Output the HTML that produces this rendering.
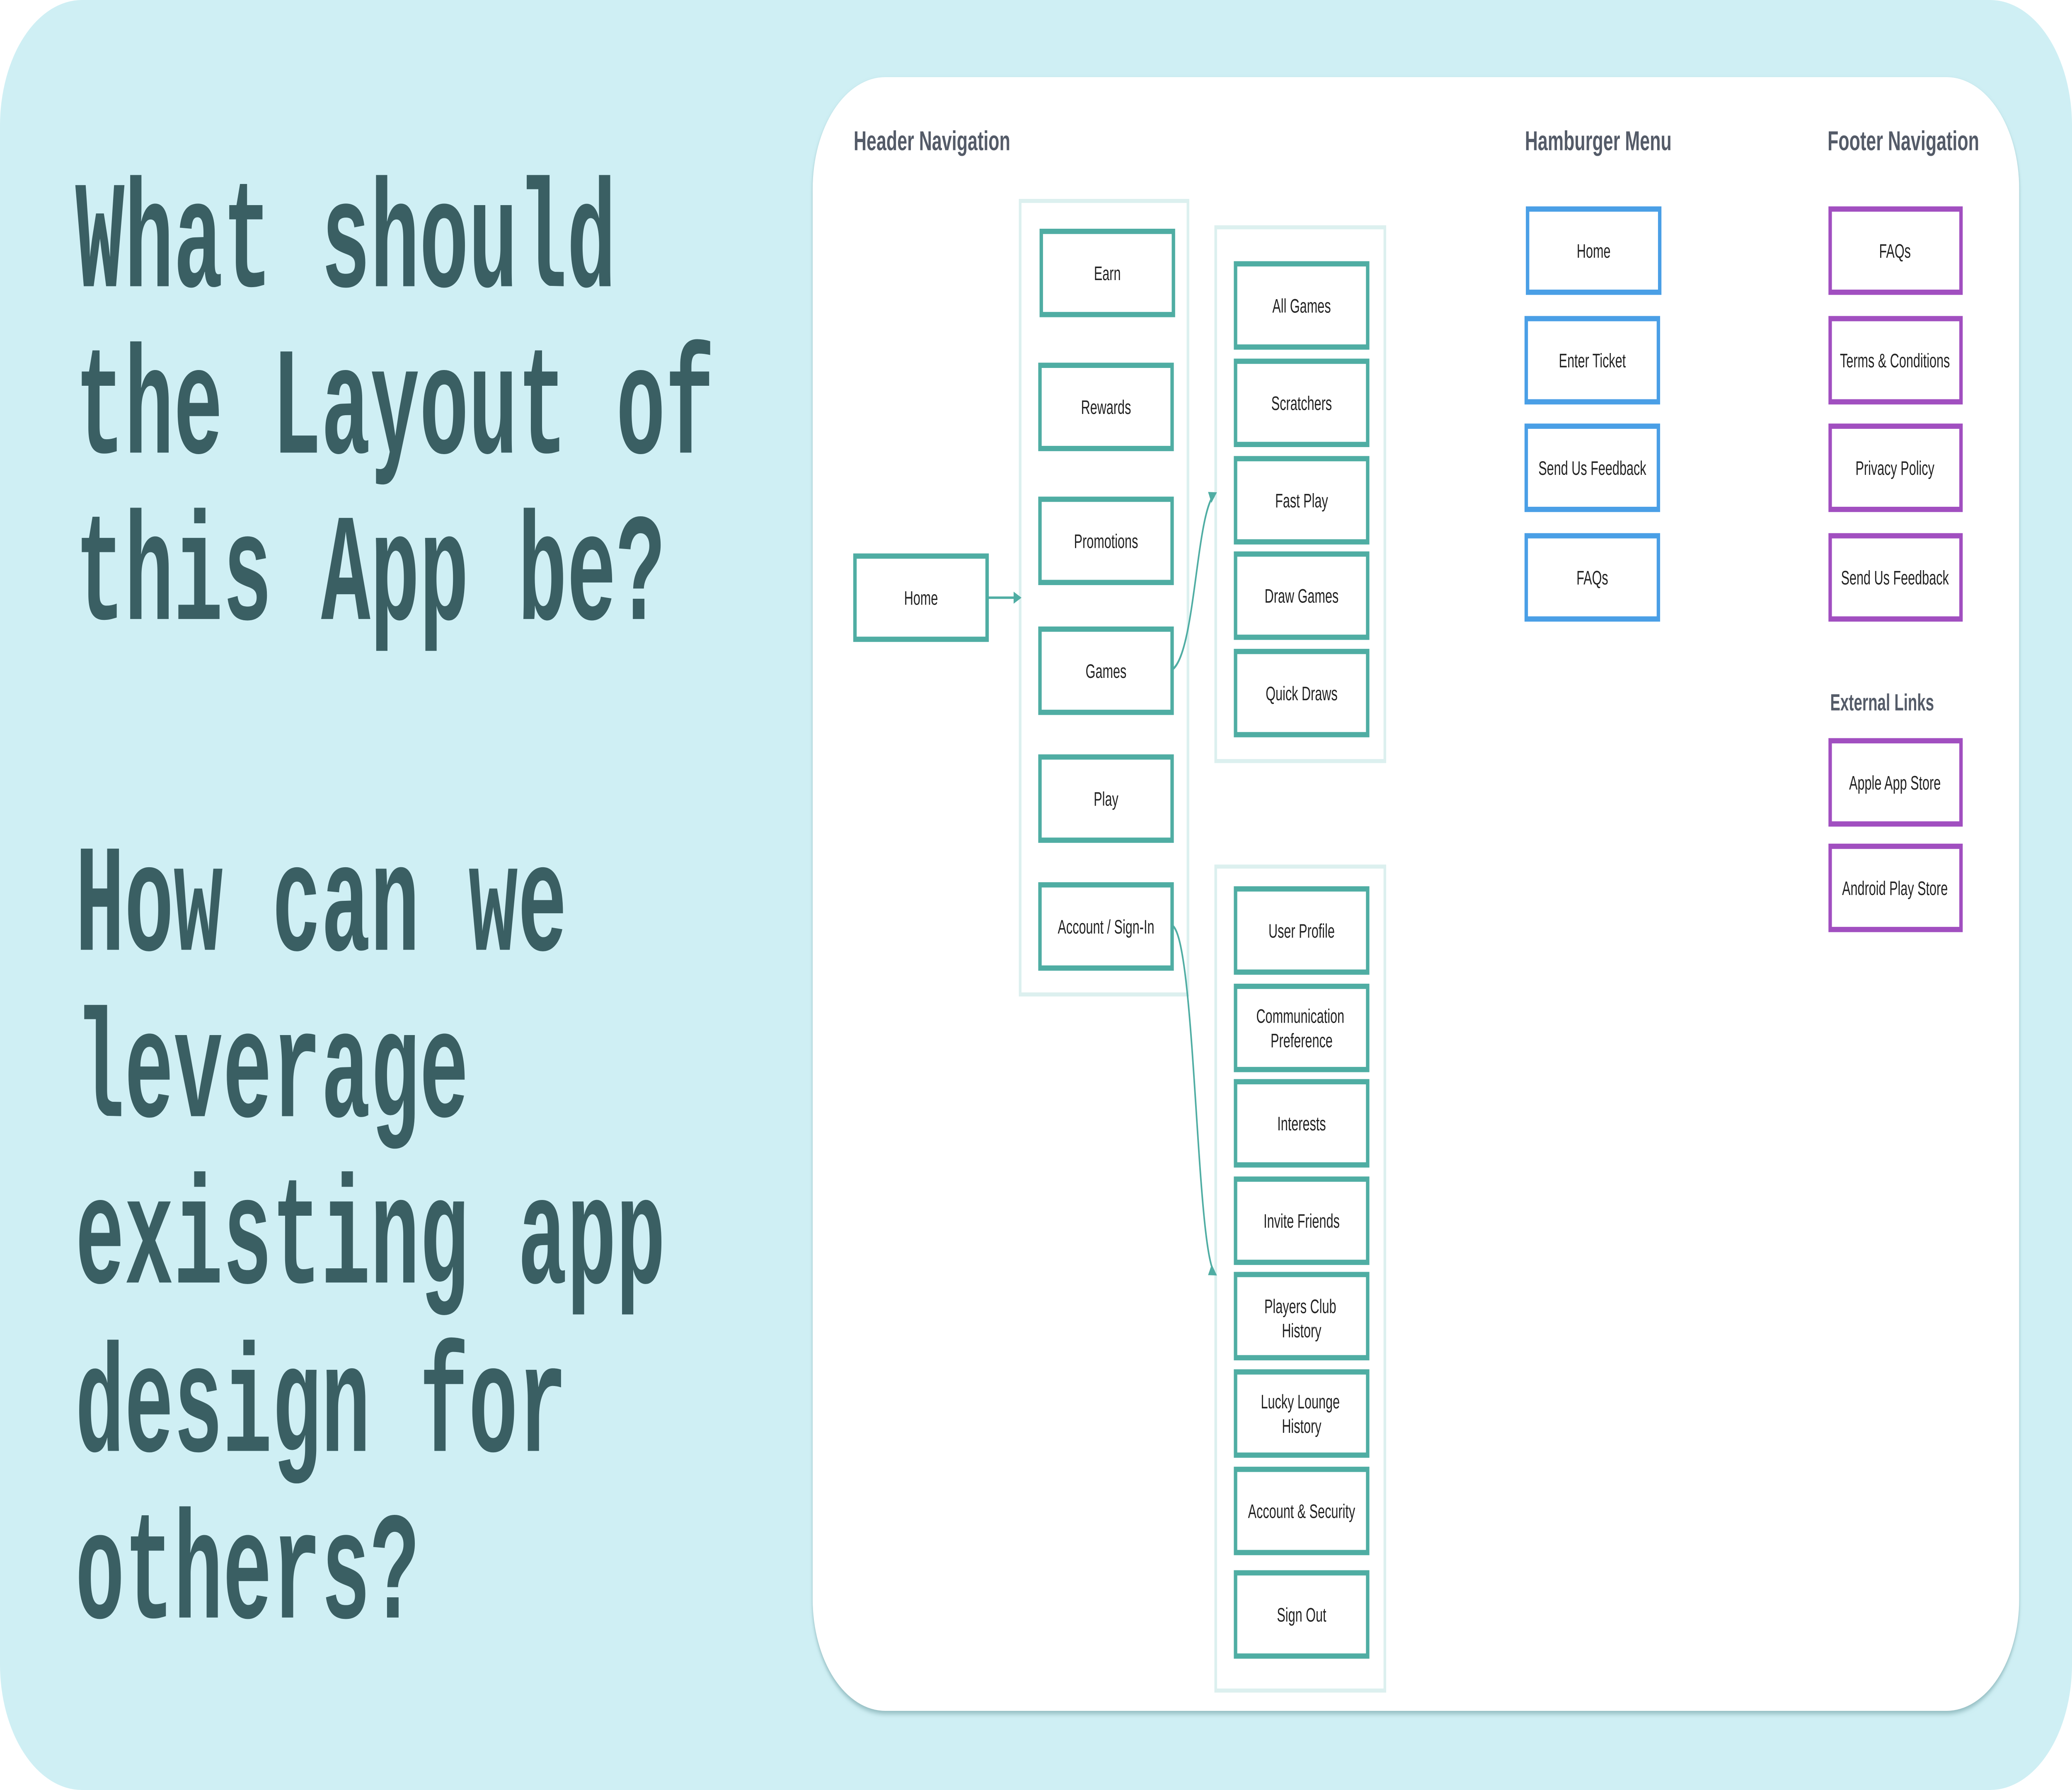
<!DOCTYPE html>
<html><head><meta charset="utf-8"><style>
html,body{margin:0;padding:0;width:100%;height:100%;overflow:hidden;background:#cfeff4}
svg{display:block;position:fixed;left:0;top:0;width:100vw;height:100vh}
</style></head><body>
<svg viewBox="0 0 1568 882" preserveAspectRatio="none" xmlns="http://www.w3.org/2000/svg">
<defs>
<marker id="ah" markerWidth="6" markerHeight="6" refX="5" refY="3" orient="auto" markerUnits="userSpaceOnUse"><path d="M0,0 L6,3 L0,6 z" fill="#4fada3"/></marker>
<filter id="sh" x="-5%" y="-5%" width="110%" height="110%"><feDropShadow dx="0" dy="1.5" stdDeviation="1.2" flood-color="#6a9a9e" flood-opacity="0.6"/></filter>
</defs>
<rect x="0" y="0" width="1568" height="882" fill="#fff"/>
<rect x="0" y="0" width="1568" height="882" rx="62" fill="#cfeff4"/>
<g font-family="'Liberation Mono', monospace" font-weight="bold" fill="#3a5f63" font-size="62">
<g transform="translate(57,0) scale(1,1.22)">
<text x="0" y="115.6">What should</text>
<text x="0" y="182.8">the Layout of</text>
<text x="0" y="250">this App be?</text>
<text x="0" y="383.6">How can we</text>
<text x="0" y="450.8">leverage</text>
<text x="0" y="518">existing app</text>
<text x="0" y="586">design for</text>
<text x="0" y="653.3">others?</text>
</g></g>
<rect x="615" y="38" width="913" height="805" rx="55" fill="#fff" filter="url(#sh)"/>
<g font-family="'Liberation Sans', sans-serif" font-weight="bold" fill="#545b68">
<text x="646" y="74" font-size="13.5">Header Navigation</text>
<text x="1154" y="74" font-size="13.5">Hamburger Menu</text>
<text x="1383" y="74" font-size="13.5">Footer Navigation</text>
<text x="1385" y="350" font-size="11.5">External Links</text>
</g>
<g fill="none" stroke="#dcf0ef" stroke-width="2">
<rect x="772" y="99" width="127" height="391"/>
<rect x="920" y="112" width="128" height="263"/>
<rect x="920" y="427" width="128" height="406"/>
</g>
<g fill="none" stroke="#4fada3" stroke-width="1.2">
<line x1="747" y1="294.5" x2="772" y2="294.5" marker-end="url(#ah)"/>
<path d="M887,330 C905,322 905,250 920,243" marker-end="url(#ah)"/>
<path d="M887,456 C905,462 905,620 920,628" marker-end="url(#ah)"/>
</g>
<g fill="#fff" stroke-width="2.6">
<g stroke="#4fada3">
<rect x="647" y="274" width="100" height="41"/>
<rect x="788" y="114" width="100" height="41"/>
<rect x="787" y="180" width="100" height="41"/>
<rect x="787" y="246" width="100" height="41"/>
<rect x="787" y="310" width="100" height="41"/>
<rect x="787" y="373" width="100" height="41"/>
<rect x="787" y="436" width="100" height="41"/>
<rect x="935" y="130" width="100" height="41"/>
<rect x="935" y="178" width="100" height="41"/>
<rect x="935" y="226" width="100" height="41"/>
<rect x="935" y="273" width="100" height="41"/>
<rect x="935" y="321" width="100" height="41"/>
<rect x="935" y="438" width="100" height="41"/>
<rect x="935" y="486" width="100" height="41"/>
<rect x="935" y="533" width="100" height="41"/>
<rect x="935" y="581" width="100" height="41"/>
<rect x="935" y="628" width="100" height="41"/>
<rect x="935" y="676" width="100" height="41"/>
<rect x="935" y="724" width="100" height="41"/>
<rect x="935" y="775" width="100" height="41"/>
</g>
<g stroke="#4a9fe6">
<rect x="1156" y="103" width="100" height="41"/>
<rect x="1155" y="157" width="100" height="41"/>
<rect x="1155" y="210" width="100" height="41"/>
<rect x="1155" y="264" width="100" height="41"/>
</g>
<g stroke="#a14fc0">
<rect x="1385" y="103" width="99" height="41"/>
<rect x="1385" y="157" width="99" height="41"/>
<rect x="1385" y="210" width="99" height="41"/>
<rect x="1385" y="264" width="99" height="41"/>
<rect x="1385" y="365" width="99" height="41"/>
<rect x="1385" y="417" width="99" height="41"/>
</g>
</g>
<g font-family="'Liberation Sans', sans-serif" font-size="9.6" fill="#222" text-anchor="middle">
<text x="697" y="298">Home</text>
<text x="838" y="138">Earn</text>
<text x="837" y="204">Rewards</text>
<text x="837" y="270">Promotions</text>
<text x="837" y="334">Games</text>
<text x="837" y="397">Play</text>
<text x="837" y="460">Account / Sign-In</text>
<text x="985" y="154">All Games</text>
<text x="985" y="202">Scratchers</text>
<text x="985" y="250">Fast Play</text>
<text x="985" y="297">Draw Games</text>
<text x="985" y="345">Quick Draws</text>
<text x="985" y="462">User Profile</text>
<text x="984" y="504">Communication</text>
<text x="985" y="516">Preference</text>
<text x="985" y="557">Interests</text>
<text x="985" y="605">Invite Friends</text>
<text x="984" y="647">Players Club</text>
<text x="985" y="659">History</text>
<text x="984" y="694">Lucky Lounge</text>
<text x="985" y="706">History</text>
<text x="985" y="748">Account &amp; Security</text>
<text x="985" y="799">Sign Out</text>
<text x="1206" y="127">Home</text>
<text x="1205" y="181">Enter Ticket</text>
<text x="1205" y="234">Send Us Feedback</text>
<text x="1205" y="288">FAQs</text>
<text x="1434" y="127">FAQs</text>
<text x="1434" y="181">Terms &amp; Conditions</text>
<text x="1434" y="234">Privacy Policy</text>
<text x="1434" y="288">Send Us Feedback</text>
<text x="1434" y="389">Apple App Store</text>
<text x="1434" y="441">Android Play Store</text>
</g>
</svg>
</body></html>
